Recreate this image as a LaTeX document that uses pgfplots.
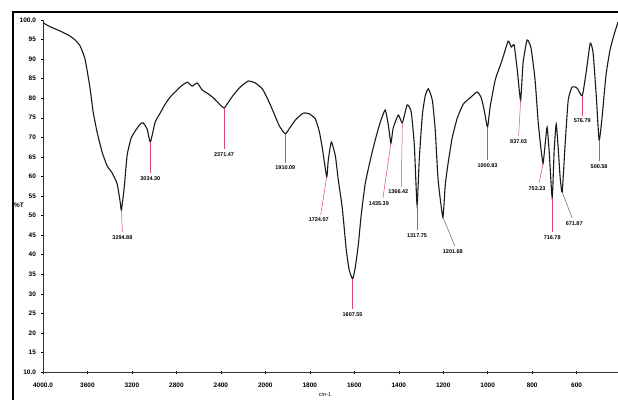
\documentclass[border=0pt]{standalone}
\usepackage{pgfplots}
\pgfplotsset{compat=1.18}
\usepackage{fontspec}
\setmainfont{Liberation Sans}
\definecolor{peakred}{RGB}{222,70,110}
\newcommand{\lab}{\fontsize{5.5}{6}\selectfont\bfseries}
\pgfplotstableread{
w T
4000 99.3
3937 98.3
3847 97.2
3757 95.9
3712 94.9
3667 93.4
3622 90.0
3577 82.6
3550 76.7
3514 71.4
3468 66.2
3423 62.7
3378 60.9
3333 58.1
3306 53.5
3294.88 51.4
3270 57.0
3243 65.5
3207 69.8
3171 71.6
3126 73.4
3099 73.7
3063 72.1
3034.30 68.8
2991 73.9
2946 76.2
2901 78.5
2856 80.3
2811 81.6
2766 82.9
2703 84.1
2658 83.1
2613 83.9
2568 82.1
2523 81.3
2468 80.1
2423 78.8
2371.47 77.5
2333 79.0
2288 80.8
2225 82.9
2153 84.4
2090 83.9
2027 82.4
1987 79.5
1964 76.5
1937 72.9
1910.09 70.9
1888 72.6
1861 74.7
1829 76.2
1802 76.0
1775 74.7
1757 71.4
1744 67.3
1724.07 59.9
1717 64.2
1703 68.8
1685 65.2
1672 59.1
1654 51.9
1636 41.2
1623 36.1
1607.55 33.8
1596 36.6
1582 42.5
1569 50.1
1551 58.1
1528 64.2
1506 69.3
1483 73.9
1461 77.0
1447 73.2
1435.39 68.5
1425 72.4
1402 75.7
1384 73.7
1362 78.3
1344 76.5
1330 68.0
1317.75 52.7
1308 64.2
1294 75.7
1281 80.6
1267 82.4
1249 79.5
1236 71.9
1223 59.1
1201.68 49.6
1191 57.8
1178 63.4
1160 69.8
1137 74.9
1110 78.5
1079 80.1
1047 81.6
1029 80.1
1016 77.0
1000.83 72.6
989 77.8
966 84.7
935 89.8
908 94.6
894 93.1
881 93.6
867 87.2
852 79.5
841 89.0
823 94.9
805 92.8
787 84.7
773 73.9
760 66.8
751 63.4
742 68.0
733 72.6
724 66.8
710 54.5
701 66.8
692 73.4
683 67.3
674 59.6
665 56.0
652 68.0
638 79.5
620 82.9
598 82.6
575 80.6
557 86.7
539 94.1
526 91.6
512 80.8
499 69.3
486 74.9
468 85.9
450 92.3
432 96.2
414 99.5
}\spectrum
\begin{document}
\begin{tikzpicture}[x=1pt,y=1pt]
\begin{axis}[
  at={(0pt,0pt)}, anchor=south west,
  scale only axis, width=575pt, height=352pt,
  x coord trafo/.code={\pgfmathparse{ifthenelse(#1>=2000,(4000-#1)/2,3000-#1)}},
  xmin=4000, xmax=414, ymin=10, ymax=100,
  axis x line=bottom, axis y line=left,
  axis line style={-, line width=0.6pt, black!80},
  xtick={4000,3600,3200,2800,2400,2000,1800,1600,1400,1200,1000,800,600},
  xticklabels={4000.0,3600,3200,2800,2400,2000,1800,1600,1400,1200,1000,800,600},
  ytick={10,15,20,25,30,35,40,45,50,55,60,65,70,75,80,85,90,95,100},
  yticklabels={10.0,15,20,25,30,35,40,45,50,55,60,65,70,75,80,85,90,95,100.0},
  tick align=center, major tick length=3pt,
  tick style={black, line width=0.5pt},
  ticklabel style={font=\fontsize{6.5}{7}\selectfont\bfseries},
  xticklabel style={yshift=-6pt},
  yticklabel style={xshift=-2pt},
]
\addplot[black!90, line width=1.1pt, smooth, tension=0.3] table[x=w, y=T] {\spectrum};
\begin{scope}[every node/.style={anchor=north, black, inner sep=1pt, yshift=-2pt, font=\lab}]
\draw[peakred, line width=0.5pt] (axis cs:3294.88,51.4) -- ++(1pt,-22pt) node {3294.88};
\draw[peakred, line width=0.5pt] (axis cs:3034.30,68.8) -- ++(0pt,-31pt) node {3034.30};
\draw[peakred, line width=0.5pt] (axis cs:2371.47,77.5) -- ++(0pt,-41pt) node {2371.47};
\draw[peakred, line width=0.5pt] (axis cs:1910.09,70.9) -- ++(0pt,-29pt) node {1910.09};
\draw[peakred, line width=0.5pt] (axis cs:1724.07,59.9) -- ++(-6pt,-38pt) node[xshift=-2pt] {1724.07};
\draw[peakred, line width=0.5pt] (axis cs:1607.55,33.8) -- ++(0pt,-30pt) node {1607.55};
\draw[peakred, line width=0.5pt] (axis cs:1435.39,68.5) -- ++(-8pt,-55pt) node[xshift=-4pt] {1435.39};
\draw[peakred, line width=0.5pt] (axis cs:1384,73.7) -- ++(-1pt,-64pt) node[xshift=-3pt] {1366.42};
\draw[peakred, line width=0.5pt] (axis cs:1317.75,52.7) -- ++(0pt,-25pt) node {1317.75};
\draw[black!60, line width=0.5pt] (axis cs:1201.68,49.6) -- ++(12pt,-29pt) node[xshift=-2pt] {1201.68};
\draw[peakred, line width=0.5pt] (axis cs:1000.83,72.6) -- ++(0pt,-33pt) node {1000.83};
\draw[peakred, line width=0.5pt] (axis cs:852,79.5) -- ++(-2pt,-36pt) node {837.03};
\draw[peakred, line width=0.5pt] (axis cs:751,63.4) -- ++(-4pt,-20pt) node[xshift=-2pt] {753.23};
\draw[peakred, line width=0.5pt] (axis cs:710,54.5) -- ++(0pt,-34pt) node {716.78};
\draw[black!60, line width=0.5pt] (axis cs:665,56.0) -- ++(10pt,-26pt) node[xshift=2pt] {671.87};
\draw[peakred, line width=0.5pt] (axis cs:575,80.6) -- ++(0pt,-20pt) node {576.79};
\draw[peakred, line width=0.5pt] (axis cs:499,69.3) -- ++(0pt,-21pt) node {500.58};
\end{scope}
\end{axis}
\node[font=\fontsize{6.5}{7}\selectfont\bfseries] at (-24,167) {\%T};
\node[font=\fontsize{5.5}{6}\selectfont] at (282,-23) {cm-1};
\draw[line width=2.5pt, black] (-30,-28) -- (-30,360.6);
\draw[line width=1.2pt, black] (-31.25,360) -- (576,360);
\pgfresetboundingbox
\path[use as bounding box] (-43,-27) rectangle (575,372);
\end{tikzpicture}
\end{document}
